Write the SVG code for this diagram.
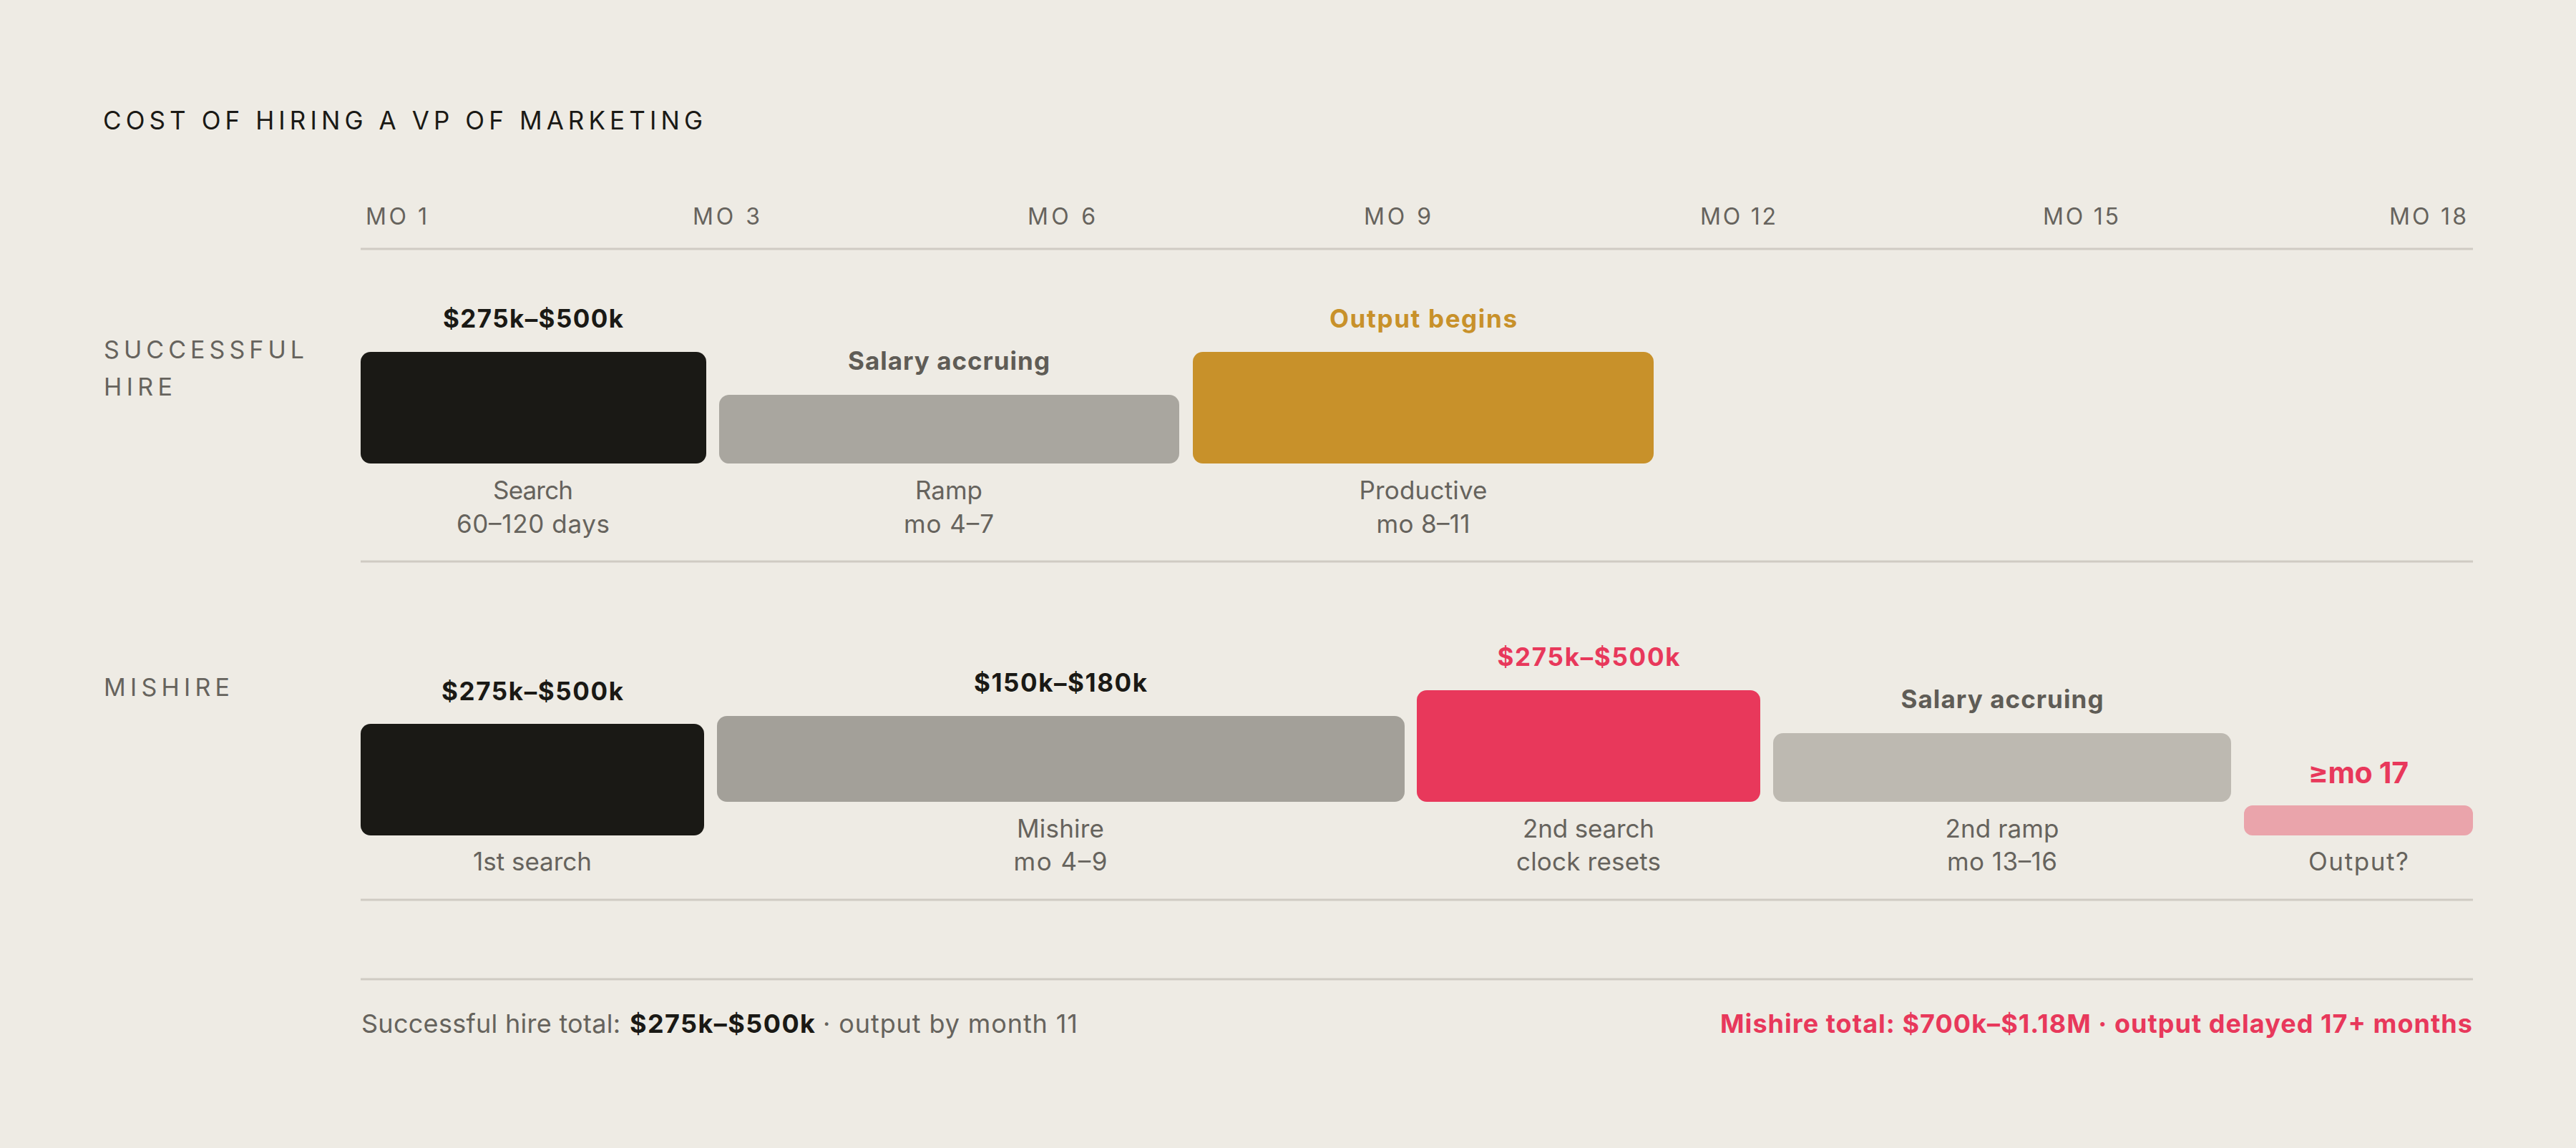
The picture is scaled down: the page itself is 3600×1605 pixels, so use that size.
<svg xmlns="http://www.w3.org/2000/svg" width="3600" height="1605" viewBox="0 0 3600 1605">
<style>
text{font-family:Inter,"DejaVu Sans",sans-serif;}
.title{font-size:35px;fill:#1a1915;font-weight:400;}
.axis{font-size:32px;fill:#66635d;}
.row{font-size:34px;fill:#66635d;}
.val{font-size:35px;font-weight:700;fill:#1a1915;text-anchor:middle;}
.sub{font-size:35px;font-weight:700;fill:#5f5c56;text-anchor:middle;}
.gold{fill:#c8912a;}
.red{fill:#e8385b;}
.lab{font-size:35px;fill:#66635d;text-anchor:middle;}
.foot{font-size:36px;fill:#66635d;}
.footb{font-size:36px;font-weight:700;fill:#1a1915;}
.footr{font-size:36px;font-weight:700;fill:#e8385b;}
.rule{stroke:#cfcbc3;stroke-width:3;}
</style>
<rect width="3600" height="1605" fill="#eeebe4"/>
<text class="title" x="144" y="181" textLength="838" lengthAdjust="spacing">COST OF HIRING A VP OF MARKETING</text>
<g id="axis">
<text class="axis" x="511" y="314" textLength="86" lengthAdjust="spacing">MO 1</text>
<text class="axis" x="968" y="314" textLength="94" lengthAdjust="spacing">MO 3</text>
<text class="axis" x="1436" y="314" textLength="95" lengthAdjust="spacing">MO 6</text>
<text class="axis" x="1906" y="314" textLength="94" lengthAdjust="spacing">MO 9</text>
<text class="axis" x="2376" y="314" textLength="106" lengthAdjust="spacing">MO 12</text>
<text class="axis" x="2855" y="314" textLength="106" lengthAdjust="spacing">MO 15</text>
<text class="axis" x="3339" y="314" textLength="108" lengthAdjust="spacing">MO 18</text>
</g>
<g id="connectors">
<line class="rule" x1="504" y1="348" x2="3456" y2="348"/>
<line class="rule" x1="504" y1="785" x2="3456" y2="785"/>
<line class="rule" x1="504" y1="1258" x2="3456" y2="1258"/>
<line class="rule" x1="504" y1="1369" x2="3456" y2="1369"/>
</g>
<g id="row-successful">
<text class="row" x="145" y="501" textLength="280" lengthAdjust="spacing">SUCCESSFUL</text>
<text class="row" x="145" y="553" textLength="96" lengthAdjust="spacing">HIRE</text>
</g>
<g id="s-search">
<rect x="504" y="492" width="483" height="156" rx="14" fill="#1a1915"/>
<text class="val" x="745" y="458" textLength="252" lengthAdjust="spacing">$275k–$500k</text>
<text class="lab" x="745" y="698" textLength="112" lengthAdjust="spacing">Search</text>
<text class="lab" x="745" y="745" textLength="214" lengthAdjust="spacing">60–120 days</text>
</g>
<g id="s-ramp">
<rect x="1005" y="552" width="643" height="96" rx="14" fill="#a9a69f"/>
<text class="sub" x="1326" y="517" textLength="282" lengthAdjust="spacing">Salary accruing</text>
<text class="lab" x="1326" y="698" textLength="94" lengthAdjust="spacing">Ramp</text>
<text class="lab" x="1326" y="745" textLength="126" lengthAdjust="spacing">mo 4–7</text>
</g>
<g id="s-productive">
<rect x="1667" y="492" width="644" height="156" rx="14" fill="#c8912a"/>
<text class="sub gold" x="1989" y="458" textLength="262" lengthAdjust="spacing">Output begins</text>
<text class="lab" x="1989" y="698" textLength="179" lengthAdjust="spacing">Productive</text>
<text class="lab" x="1989" y="745" textLength="131" lengthAdjust="spacing">mo 8–11</text>
</g>
<g id="row-mishire">
<text class="row" x="145" y="973" textLength="176" lengthAdjust="spacing">MISHIRE</text>
</g>
<g id="m-search1">
<rect x="504" y="1012" width="480" height="156" rx="14" fill="#1a1915"/>
<text class="val" x="744" y="979" textLength="254" lengthAdjust="spacing">$275k–$500k</text>
<text class="lab" x="744" y="1217" textLength="166" lengthAdjust="spacing">1st search</text>
</g>
<g id="m-mishire">
<rect x="1002" y="1001" width="961" height="120" rx="14" fill="#a3a099"/>
<text class="val" x="1482" y="967" textLength="242" lengthAdjust="spacing">$150k–$180k</text>
<text class="lab" x="1482" y="1171" textLength="122" lengthAdjust="spacing">Mishire</text>
<text class="lab" x="1482" y="1217" textLength="131" lengthAdjust="spacing">mo 4–9</text>
</g>
<g id="m-search2">
<rect x="1980" y="965" width="480" height="156" rx="14" fill="#e8385b"/>
<text class="val red" x="2220" y="931" textLength="255" lengthAdjust="spacing">$275k–$500k</text>
<text class="lab" x="2220" y="1171" textLength="184" lengthAdjust="spacing">2nd search</text>
<text class="lab" x="2220" y="1217" textLength="202" lengthAdjust="spacing">clock resets</text>
</g>
<g id="m-ramp2">
<rect x="2478" y="1025" width="640" height="96" rx="14" fill="#bdb9b1"/>
<text class="sub" x="2798" y="990" textLength="283" lengthAdjust="spacing">Salary accruing</text>
<text class="lab" x="2798" y="1171" textLength="159" lengthAdjust="spacing">2nd ramp</text>
<text class="lab" x="2798" y="1217" textLength="154" lengthAdjust="spacing">mo 13–16</text>
</g>
<g id="m-output">
<rect x="3136" y="1126" width="320" height="42" rx="12" fill="#eaa4ab"/>
<text class="val red" x="3296" y="1095" style="font-size:41px" textLength="140" lengthAdjust="spacing">≥mo 17</text>
<text class="lab" x="3296" y="1217" textLength="140" lengthAdjust="spacing">Output?</text>
</g>
<g id="footer">
<text class="foot" x="505" y="1444" textLength="362" lengthAdjust="spacing">Successful hire total:</text>
<text class="footb" x="880" y="1444" textLength="259" lengthAdjust="spacing">$275k–$500k</text>
<text class="foot" x="1150" y="1444" textLength="356" lengthAdjust="spacing">· output by month 11</text>
<text class="footr" x="3455" y="1444" text-anchor="end" textLength="1051" lengthAdjust="spacing">Mishire total: $700k–$1.18M · output delayed 17+ months</text>
</g>
</svg>
